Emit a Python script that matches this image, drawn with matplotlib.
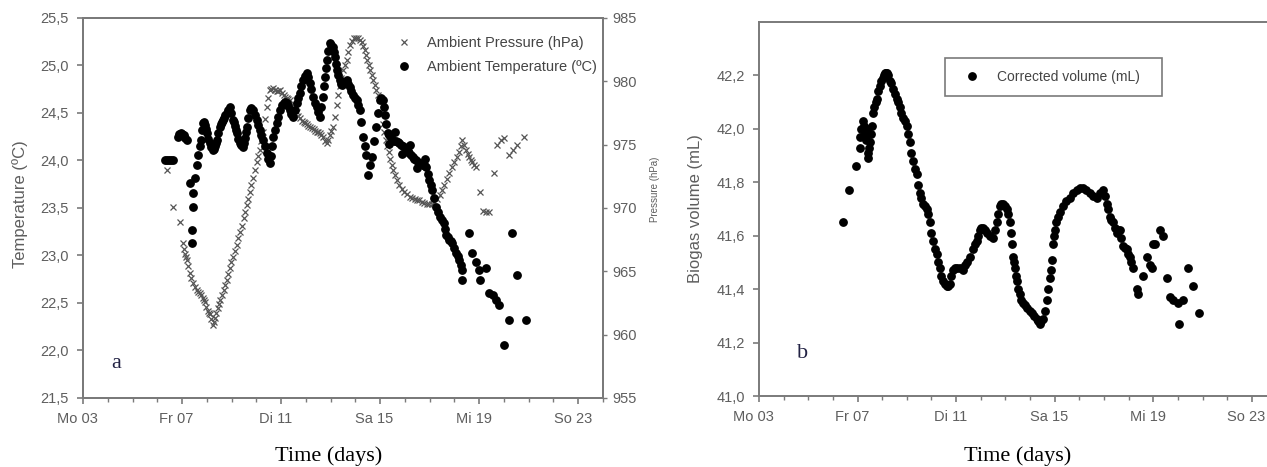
import matplotlib
matplotlib.use("Agg")
import matplotlib.pyplot as plt
from matplotlib.patches import Rectangle
from matplotlib.transforms import ScaledTranslation

# DATA (time in days since Mo 03)
# ---------------------------------------------------------
day_ticks = [0, 4, 8, 12, 16, 20]
day_labels = ["Mo 03", "Fr 07", "Di 11", "Sa 15", "Mi 19", "So 23"]

temp_ticks = [21.5, 22.0, 22.5, 23.0, 23.5, 24.0, 24.5, 25.0, 25.5]
temp_labels = ["21,5", "22,0", "22,5", "23,0", "23,5", "24,0", "24,5", "25,0", "25,5"]
press_ticks = [955, 960, 965, 970, 975, 980, 985]
vol_ticks = [41.0, 41.2, 41.4, 41.6, 41.8, 42.0, 42.2]
vol_labels = ["41,0", "41,2", "41,4", "41,6", "41,8", "42,0", "42,2"]

# ambient temperature (day, degC)
temp_points = [
    (3.31, 24.01), (3.39, 24.01), (3.47, 24.01), (3.55, 24.00), (3.63, 24.01),
    (3.83, 24.25), (3.89, 24.28), (3.95, 24.29), (4.01, 24.28), (4.07, 24.27),
    (4.13, 24.24), (4.19, 24.22), (4.31, 23.76), (4.40, 23.13), (4.42, 23.27),
    (4.44, 23.51), (4.46, 23.66), (4.54, 23.82), (4.60, 23.95), (4.66, 24.06),
    (4.72, 24.15), (4.76, 24.22), (4.80, 24.32), (4.84, 24.39), (4.88, 24.40),
    (4.92, 24.37), (4.96, 24.33), (5.00, 24.29), (5.06, 24.23), (5.12, 24.18),
    (5.18, 24.14), (5.24, 24.11), (5.28, 24.12), (5.32, 24.15), (5.36, 24.18),
    (5.40, 24.22), (5.46, 24.29), (5.52, 24.35), (5.56, 24.38), (5.60, 24.40),
    (5.64, 24.43), (5.69, 24.45), (5.75, 24.48), (5.81, 24.50), (5.87, 24.53),
    (5.93, 24.56), (5.99, 24.50), (6.05, 24.43), (6.09, 24.40), (6.13, 24.36),
    (6.17, 24.32), (6.21, 24.29), (6.27, 24.23), (6.33, 24.18), (6.39, 24.16),
    (6.45, 24.14), (6.49, 24.18), (6.53, 24.24), (6.57, 24.30), (6.61, 24.35),
    (6.67, 24.45), (6.73, 24.53), (6.79, 24.55), (6.85, 24.53), (6.93, 24.48),
    (7.02, 24.43), (7.08, 24.37), (7.14, 24.32), (7.20, 24.27), (7.26, 24.22),
    (7.34, 24.15), (7.42, 24.08), (7.48, 24.02), (7.54, 23.97), (7.58, 24.05),
    (7.62, 24.15), (7.66, 24.25), (7.74, 24.32), (7.82, 24.39), (7.88, 24.46),
    (7.94, 24.53), (8.02, 24.58), (8.10, 24.61), (8.16, 24.62), (8.23, 24.61),
    (8.29, 24.57), (8.35, 24.53), (8.41, 24.49), (8.47, 24.46), (8.55, 24.53),
    (8.63, 24.61), (8.69, 24.66), (8.75, 24.71), (8.81, 24.78), (8.87, 24.85),
    (8.95, 24.89), (9.03, 24.92), (9.09, 24.88), (9.15, 24.82), (9.21, 24.75),
    (9.27, 24.67), (9.35, 24.61), (9.44, 24.56), (9.50, 24.51), (9.56, 24.46),
    (9.62, 24.56), (9.68, 24.67), (9.72, 24.78), (9.76, 24.88), (9.80, 24.97),
    (9.84, 25.06), (9.90, 25.15), (9.96, 25.24), (10.02, 25.22), (10.08, 25.19),
    (10.12, 25.14), (10.16, 25.09), (10.20, 25.02), (10.24, 24.95), (10.30, 24.90),
    (10.36, 24.85), (10.42, 24.81), (10.48, 24.79), (10.56, 24.82), (10.65, 24.85),
    (10.71, 24.80), (10.77, 24.77), (10.83, 24.73), (10.89, 24.69), (10.97, 24.66),
    (11.05, 24.64), (11.11, 24.58), (11.17, 24.53), (11.23, 24.40), (11.29, 24.25),
    (11.37, 24.15), (11.45, 24.06), (11.53, 23.85), (11.61, 23.95), (11.69, 24.04),
    (11.77, 24.20), (11.85, 24.35), (11.92, 24.50), (11.98, 24.64), (12.04, 24.66),
    (12.10, 24.64), (12.14, 24.56), (12.18, 24.48), (12.24, 24.38), (12.30, 24.29),
    (12.34, 24.17), (12.36, 24.27), (12.42, 24.25), (12.50, 24.22), (12.57, 24.21),
    (12.60, 24.30), (12.64, 24.20), (12.71, 24.19), (12.78, 24.18), (12.85, 24.16),
    (12.90, 24.07), (12.92, 24.15), (12.99, 24.13), (13.06, 24.11), (13.12, 24.10),
    (13.18, 24.08), (13.20, 24.16), (13.25, 24.06), (13.31, 24.04), (13.38, 24.02),
    (13.45, 24.00), (13.50, 23.92), (13.52, 23.98), (13.59, 23.97), (13.66, 23.96),
    (13.73, 23.95), (13.80, 23.94), (13.80, 24.02), (13.87, 23.93), (13.93, 23.86),
    (13.99, 23.79), (14.05, 23.74), (14.11, 23.69), (14.19, 23.60), (14.27, 23.51),
    (14.33, 23.46), (14.40, 23.41), (14.48, 23.37), (14.56, 23.34), (14.62, 23.28),
    (14.68, 23.22), (14.74, 23.19), (14.80, 23.16), (14.86, 23.15), (14.92, 23.13),
    (15.00, 23.08), (15.08, 23.03), (15.14, 22.99), (15.20, 22.95), (15.26, 22.90),
    (15.32, 22.85), (15.32, 22.74), (15.60, 23.24), (15.73, 23.03), (15.89, 22.93),
    (16.01, 22.85), (16.05, 22.74), (16.29, 22.87), (16.41, 22.61), (16.57, 22.58),
    (16.69, 22.53), (16.81, 22.48), (17.02, 22.06), (17.22, 22.32), (17.34, 23.24),
    (17.54, 22.79), (17.90, 22.32),
]

# ambient pressure (day, hPa)
press_points = [
    (3.39, 973.0), (3.63, 970.1), (3.91, 968.9), (4.03, 967.2), (4.07, 966.8),
    (4.11, 966.4), (4.15, 966.1), (4.19, 965.9), (4.25, 965.4), (4.31, 964.9),
    (4.37, 964.5), (4.44, 964.1), (4.52, 963.8), (4.60, 963.5), (4.66, 963.4),
    (4.72, 963.3), (4.78, 963.1), (4.84, 962.9), (4.88, 962.7), (4.92, 962.6),
    (4.98, 962.2), (5.04, 961.9), (5.08, 961.7), (5.12, 961.6), (5.18, 961.2),
    (5.24, 960.8), (5.28, 961.0), (5.32, 961.3), (5.38, 961.7), (5.44, 962.1),
    (5.48, 962.4), (5.52, 962.7), (5.60, 963.1), (5.69, 963.5), (5.75, 963.9),
    (5.81, 964.3), (5.87, 964.8), (5.93, 965.3), (5.99, 965.7), (6.05, 966.1),
    (6.13, 966.6), (6.21, 967.1), (6.27, 967.6), (6.33, 968.1), (6.41, 968.6),
    (6.49, 969.2), (6.55, 969.7), (6.61, 970.2), (6.67, 970.7), (6.73, 971.3),
    (6.79, 971.8), (6.85, 972.4), (6.93, 973.0), (7.02, 973.6), (7.08, 974.1),
    (7.14, 974.6), (7.20, 975.3), (7.26, 976.0), (7.34, 977.0), (7.42, 978.0),
    (7.48, 978.7), (7.54, 979.3), (7.60, 979.4), (7.66, 979.5), (7.74, 979.3),
    (7.82, 979.2), (7.88, 979.2), (7.94, 979.3), (8.02, 979.1), (8.10, 978.9),
    (8.16, 978.8), (8.23, 978.7), (8.29, 978.6), (8.35, 978.5), (8.43, 978.2),
    (8.51, 977.9), (8.57, 977.8), (8.63, 977.6), (8.69, 977.3), (8.75, 977.1),
    (8.83, 976.9), (8.91, 976.8), (8.97, 976.7), (9.03, 976.6), (9.09, 976.5),
    (9.15, 976.4), (9.23, 976.3), (9.31, 976.2), (9.37, 976.1), (9.44, 976.0),
    (9.50, 976.0), (9.56, 975.9), (9.62, 975.8), (9.68, 975.6), (9.76, 975.3),
    (9.84, 975.1), (9.90, 975.4), (9.96, 975.8), (10.02, 976.1), (10.08, 976.4),
    (10.16, 977.2), (10.24, 978.1), (10.30, 978.9), (10.36, 979.6), (10.44, 980.3),
    (10.52, 980.9), (10.58, 981.3), (10.65, 981.7), (10.71, 982.3), (10.77, 982.9),
    (10.85, 983.2), (10.93, 983.4), (11.01, 983.4), (11.09, 983.4), (11.17, 983.3),
    (11.25, 983.1), (11.31, 982.8), (11.37, 982.5), (11.43, 982.1), (11.49, 981.7),
    (11.55, 981.3), (11.61, 980.9), (11.67, 980.5), (11.73, 980.1), (11.79, 979.7),
    (11.85, 979.3), (11.92, 978.9), (11.98, 978.5), (12.04, 977.6), (12.10, 976.6),
    (12.16, 976.0), (12.22, 975.4), (12.28, 974.9), (12.34, 974.4), (12.40, 973.9),
    (12.46, 973.4), (12.54, 973.0), (12.62, 972.6), (12.70, 972.2), (12.78, 971.8),
    (12.88, 971.5), (12.98, 971.3), (13.08, 971.1), (13.19, 970.9), (13.29, 970.8),
    (13.39, 970.7), (13.49, 970.6), (13.59, 970.6), (13.69, 970.5), (13.79, 970.4),
    (13.89, 970.3), (13.99, 970.3), (14.09, 970.3), (14.19, 970.4), (14.29, 970.7),
    (14.40, 971.0), (14.50, 971.4), (14.60, 971.8), (14.70, 972.3), (14.80, 972.8),
    (14.90, 973.2), (15.00, 973.6), (15.10, 974.0), (15.20, 974.4), (15.26, 974.9),
    (15.32, 975.4), (15.40, 975.0), (15.48, 974.6), (15.54, 974.3), (15.60, 974.0),
    (15.66, 973.8), (15.73, 973.6), (15.81, 973.4), (15.89, 973.2), (16.05, 971.3),
    (16.17, 969.8), (16.29, 969.7), (16.41, 969.7), (16.61, 972.8), (16.73, 975.0),
    (16.90, 975.4), (17.02, 975.5), (17.22, 974.2), (17.38, 974.6), (17.54, 975.0),
    (17.82, 975.6),
]

# corrected biogas volume (day, mL)
vol_points = [
    (3.41, 41.65), (3.65, 41.77), (3.94, 41.86), (4.10, 41.93), (4.12, 41.97),
    (4.16, 42.00), (4.22, 42.03), (4.26, 42.01), (4.30, 41.98), (4.34, 41.96),
    (4.38, 42.00), (4.42, 41.89), (4.44, 41.91), (4.46, 41.93), (4.50, 41.95),
    (4.54, 41.98), (4.58, 42.01), (4.62, 42.06), (4.68, 42.08), (4.73, 42.10),
    (4.79, 42.11), (4.85, 42.14), (4.91, 42.16), (4.97, 42.18), (5.03, 42.19),
    (5.08, 42.20), (5.12, 42.21), (5.16, 42.21), (5.19, 42.21), (5.25, 42.20),
    (5.31, 42.18), (5.37, 42.17), (5.44, 42.15), (5.52, 42.13), (5.60, 42.11),
    (5.66, 42.10), (5.72, 42.08), (5.78, 42.06), (5.84, 42.04), (5.92, 42.03),
    (6.00, 42.01), (6.06, 41.98), (6.13, 41.95), (6.19, 41.91), (6.25, 41.88),
    (6.33, 41.85), (6.41, 41.83), (6.47, 41.79), (6.53, 41.76), (6.59, 41.74),
    (6.65, 41.72), (6.74, 41.71), (6.82, 41.70), (6.88, 41.68), (6.94, 41.65),
    (7.00, 41.61), (7.06, 41.58), (7.14, 41.55), (7.22, 41.53), (7.28, 41.50),
    (7.34, 41.48), (7.40, 41.45), (7.46, 41.43), (7.54, 41.42), (7.63, 41.41),
    (7.69, 41.41), (7.75, 41.42), (7.81, 41.45), (7.87, 41.47), (7.95, 41.48),
    (8.03, 41.48), (8.15, 41.48), (8.28, 41.47), (8.36, 41.49), (8.44, 41.50),
    (8.56, 41.52), (8.68, 41.55), (8.76, 41.57), (8.84, 41.58), (8.90, 41.60),
    (8.97, 41.62), (9.03, 41.63), (9.09, 41.63), (9.17, 41.62), (9.25, 41.61),
    (9.37, 41.60), (9.49, 41.59), (9.57, 41.62), (9.66, 41.65), (9.72, 41.68),
    (9.78, 41.71), (9.84, 41.72), (9.90, 41.72), (9.98, 41.71), (10.06, 41.70),
    (10.12, 41.68), (10.18, 41.65), (10.22, 41.61), (10.26, 41.57), (10.30, 41.52),
    (10.34, 41.50), (10.39, 41.48), (10.43, 41.45), (10.47, 41.43), (10.53, 41.40),
    (10.59, 41.38), (10.65, 41.36), (10.71, 41.35), (10.79, 41.34), (10.87, 41.33),
    (10.99, 41.32), (11.07, 41.31), (11.15, 41.30), (11.28, 41.29), (11.34, 41.28),
    (11.40, 41.27), (11.46, 41.28), (11.52, 41.29), (11.60, 41.32), (11.68, 41.36),
    (11.74, 41.40), (11.81, 41.44), (11.85, 41.47), (11.89, 41.51), (11.93, 41.57),
    (11.97, 41.60), (12.01, 41.62), (12.07, 41.65), (12.13, 41.67), (12.23, 41.69),
    (12.33, 41.71), (12.47, 41.73), (12.62, 41.74), (12.76, 41.76), (12.90, 41.77),
    (13.02, 41.78), (13.14, 41.78), (13.29, 41.77), (13.43, 41.76), (13.57, 41.75),
    (13.71, 41.74), (13.83, 41.76), (13.96, 41.77), (14.04, 41.75), (14.12, 41.72),
    (14.18, 41.70), (14.24, 41.67), (14.30, 41.66), (14.36, 41.65), (14.44, 41.63),
    (14.52, 41.61), (14.58, 41.62), (14.65, 41.62), (14.71, 41.59), (14.77, 41.56),
    (14.85, 41.555), (14.93, 41.55), (14.99, 41.53), (15.05, 41.52), (15.11, 41.50),
    (15.17, 41.48), (15.33, 41.40), (15.38, 41.38), (15.58, 41.45), (15.74, 41.52),
    (15.86, 41.49), (15.94, 41.48), (15.98, 41.57), (16.06, 41.57), (16.27, 41.62),
    (16.39, 41.60), (16.55, 41.44), (16.67, 41.37), (16.80, 41.36), (17.00, 41.35),
    (17.04, 41.27), (17.20, 41.36), (17.40, 41.48), (17.61, 41.41), (17.85, 41.31),
]

temp_day, temp_c = zip(*temp_points)
press_day, press_hpa = zip(*press_points)
vol_day, vol_ml = zip(*vol_points)

# STYLE
# ---------------------------------------------------------
plt.rcParams["font.family"] = ["Liberation Sans", "DejaVu Sans"]
GREY = "#7a7a7a"
TXT = "#5e5e5e"

fig = plt.figure(figsize=(12.67, 4.67), dpi=100)


def style_axis(ax, yticks, ylabels, ylim):
    ax.set_xlim(0, 21)
    ax.set_ylim(*ylim)
    ax.set_xticks(day_ticks)
    ax.set_xticklabels(day_labels)
    ax.set_xticks(range(0, 22), minor=True)
    ax.set_yticks(yticks)
    ax.set_yticklabels(ylabels)
    for s in ax.spines.values():
        s.set_color(GREY)
        s.set_linewidth(1.4)
    ax.tick_params(which="major", direction="out", length=4, width=1.2,
                   color=GREY, labelsize=10.5, labelcolor=TXT, pad=6)
    ax.tick_params(which="minor", direction="out", length=3, width=1.0, color=GREY)


# panel a: temperature and pressure
# ---------------------------------------------------------
ax = fig.add_axes([0.0655, 0.1478, 0.4104, 0.8137])
ax2 = ax.twinx()
style_axis(ax, temp_ticks, temp_labels, (21.5, 25.5))
ax2.set_ylim(955, 985)
ax2.set_yticks(press_ticks)
ax2.set_yticklabels([str(p) for p in press_ticks])
ax2.tick_params(direction="out", length=3, width=1.0, color=GREY,
                labelsize=10.5, labelcolor=TXT, pad=4)
for s in ax2.spines.values():
    s.set_color(GREY)
    s.set_linewidth(1.4)

ax.set_zorder(ax2.get_zorder() + 1)
ax.patch.set_visible(False)

hp, = ax2.plot(press_day, press_hpa, linestyle="none", marker="x",
               markersize=5, markeredgewidth=0.9, color="#555555",
               label="Ambient Pressure (hPa)")
ht, = ax.plot(temp_day, temp_c, linestyle="none", marker="o",
              markersize=5.3, color="black", label="Ambient Temperature (\u00baC)")

ax.set_ylabel("Temperature (\u00baC)", fontsize=12, color=TXT)
ax.yaxis.set_label_coords(-0.106, 0.51)
ax2.set_ylabel("Pressure (hPa)", fontsize=7, color=TXT)
ax2.yaxis.set_label_coords(1.090, 0.55)
ax.legend(handles=[hp, ht], loc="upper right", bbox_to_anchor=(0.988, 0.952),
          frameon=False, fontsize=10.5, labelcolor="#444444", handlelength=1.5,
          handletextpad=0.8, labelspacing=0.65, borderpad=0, borderaxespad=0)
ax.text(0.063, 0.092, "a", transform=ax.transAxes, fontsize=16,
        family="Liberation Serif", color="#222244", ha="center", va="center")

# panel b: corrected biogas volume
# ---------------------------------------------------------
bx = fig.add_axes([0.599, 0.152, 0.4085, 0.8009])
style_axis(bx, vol_ticks, vol_labels, (41.0, 42.4))
bx.spines["right"].set_visible(False)
bx.plot(vol_day, vol_ml, linestyle="none", marker="o", markersize=5.3,
        color="black", label="Corrected volume (mL)")
bx.set_ylabel("Biogas volume (mL)", fontsize=12, color=TXT)
bx.yaxis.set_label_coords(-0.108, 0.5)
bx.legend(loc="center left", bbox_to_anchor=(0.391, 0.853), frameon=False,
          fontsize=10, labelcolor="#444444", handlelength=1.5,
          handletextpad=1.05, borderpad=0, borderaxespad=0)
bx.add_patch(Rectangle((0.359, 0.802), 0.419, 0.102, transform=bx.transAxes,
                       fill=False, edgecolor=GREY, linewidth=1.2))
bx.text(0.085, 0.113, "b", transform=bx.transAxes, fontsize=16,
        family="Liberation Serif", color="#222244", ha="center", va="center")

# x labels
fig.text(0.259, 0.024, "Time (days)", fontsize=16, family="Liberation Serif",
         ha="center", va="center")
fig.text(0.803, 0.024, "Time (days)", fontsize=16, family="Liberation Serif",
         ha="center", va="center")

# day labels sit a little left of their ticks in the original
shift = ScaledTranslation(-5.5 / 100, 0, fig.dpi_scale_trans)
for a in (ax, bx):
    for lab in a.get_xticklabels():
        lab.set_transform(lab.get_transform() + shift)

plt.savefig("out.png", dpi=100)
